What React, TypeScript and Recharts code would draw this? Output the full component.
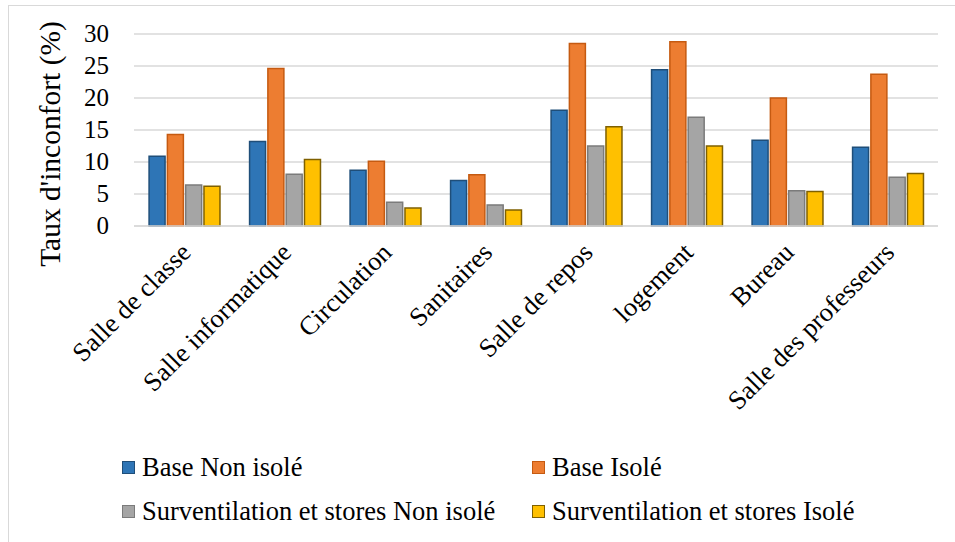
import React from "react";
import { BarChart, Bar, XAxis, YAxis, CartesianGrid, Legend } from "recharts";

// Room types
const categories = [
  "Salle de classe",
  "Salle informatique",
  "Circulation",
  "Sanitaires",
  "Salle de repos",
  "logement",
  "Bureau",
  "Salle des professeurs",
];

// Discomfort rate (%) per scenario
const baseNonIsole = [10.9, 13.2, 8.7, 7.1, 18.1, 24.4, 13.4, 12.3];
const baseIsole = [14.3, 24.6, 10.1, 8.0, 28.5, 28.8, 20.0, 23.7];
const surventNonIsole = [6.4, 8.1, 3.7, 3.3, 12.5, 17.0, 5.5, 7.6];
const surventIsole = [6.2, 10.4, 2.8, 2.5, 15.5, 12.5, 5.4, 8.2];

const yTicks = [0, 5, 10, 15, 20, 25, 30];

const seriesNames = [
  "Base Non isolé",
  "Base Isolé",
  "Surventilation et stores Non isolé",
  "Surventilation et stores Isolé",
];

const data = categories.map((name, i) => ({
  name,
  a: baseNonIsole[i],
  b: baseIsole[i],
  c: surventNonIsole[i],
  d: surventIsole[i],
}));

const FONT = '"Liberation Serif", serif';

const series = [
  { key: "a", name: seriesNames[0], fill: "#2E75B6", stroke: "#1F4E79" },
  { key: "b", name: seriesNames[1], fill: "#ED7D31", stroke: "#C55A11" },
  { key: "c", name: seriesNames[2], fill: "#A5A5A5", stroke: "#7B7B7B" },
  { key: "d", name: seriesNames[3], fill: "#FFC000", stroke: "#7F6000" },
];

const CategoryTick = (props: any) => {
  const { x, y, payload } = props;
  const ax = x + 8;
  const ay = y + 20;
  return (
    <text
      x={ax}
      y={ay}
      textAnchor="end"
      transform={`rotate(-45, ${ax}, ${ay})`}
      fontFamily={FONT}
      fontSize={26.5}
      fill="#000"
    >
      {payload.value}
    </text>
  );
};

const ValueTick = (props: any) => {
  const { x, y, payload } = props;
  return (
    <text
      x={x}
      y={y}
      dy={8}
      textAnchor="end"
      fontFamily={FONT}
      fontSize={25}
      fill="#000"
    >
      {payload.value}
    </text>
  );
};

const legendSlots = [
  { left: 122, top: 13 },
  { left: 532, top: 13 },
  { left: 122, top: 57 },
  { left: 532, top: 57 },
];

const LegendContent = () => (
  <div style={{ position: "relative", width: 955, height: 100 }}>
    {series.map((s, i) => (
      <div
        key={s.key}
        style={{
          position: "absolute",
          left: legendSlots[i].left,
          top: legendSlots[i].top,
          display: "flex",
          alignItems: "center",
          whiteSpace: "nowrap",
        }}
      >
        <span
          style={{
            display: "inline-block",
            width: 11,
            height: 11,
            background: s.fill,
            border: `1.5px solid ${s.stroke}`,
            marginRight: 7,
          }}
        />
        <span style={{ fontFamily: FONT, fontSize: 26.5, color: "#000", lineHeight: "28px" }}>
          {s.name}
        </span>
      </div>
    ))}
  </div>
);

export default function App() {
  return (
    <div
      style={{
        position: "absolute",
        left: 0,
        top: 0,
        width: 955,
        height: 542,
        overflow: "hidden",
        background: "#fff",
      }}
    >
      <div
        style={{
          position: "absolute",
          left: 8,
          top: 5,
          width: 980,
          height: 600,
          border: "1.5px solid #D9D9D9",
        }}
      />
      <BarChart
        width={955}
        height={542}
        data={data}
        margin={{ top: 34, right: 17, bottom: 0, left: 0 }}
        barCategoryGap="15%"
        barGap={2.3}
        style={{ position: "absolute", left: 0, top: 0 }}
      >
        <CartesianGrid vertical={false} stroke="#D9D9D9" strokeWidth={1.5} />
        <XAxis
          dataKey="name"
          height={316}
          interval={0}
          tickLine={false}
          axisLine={{ stroke: "#D9D9D9", strokeWidth: 1.5 }}
          tick={<CategoryTick />}
        />
        <YAxis
          width={134}
          domain={[0, 30]}
          ticks={yTicks}
          interval={0}
          axisLine={false}
          tickLine={false}
          tickSize={6}
          tickMargin={19}
          tick={<ValueTick />}
          label={{
            value: "Taux d'inconfort (%)",
            angle: -90,
            position: "insideLeft",
            offset: 0,
            dx: 50,
            dy: 14,
            style: { fontFamily: FONT, fontSize: 29.5, fill: "#000", textAnchor: "middle" },
          }}
        />
        <Legend
          layout="vertical"
          align="center"
          verticalAlign="middle"
          wrapperStyle={{ left: 0, top: 440, width: 955, height: 100 }}
          content={<LegendContent />}
        />
        {series.map((s) => (
          <Bar
            key={s.key}
            dataKey={s.key}
            name={s.name}
            fill={s.fill}
            stroke={s.stroke}
            strokeWidth={1.5}
            isAnimationActive={false}
          />
        ))}
      </BarChart>
    </div>
  );
}
